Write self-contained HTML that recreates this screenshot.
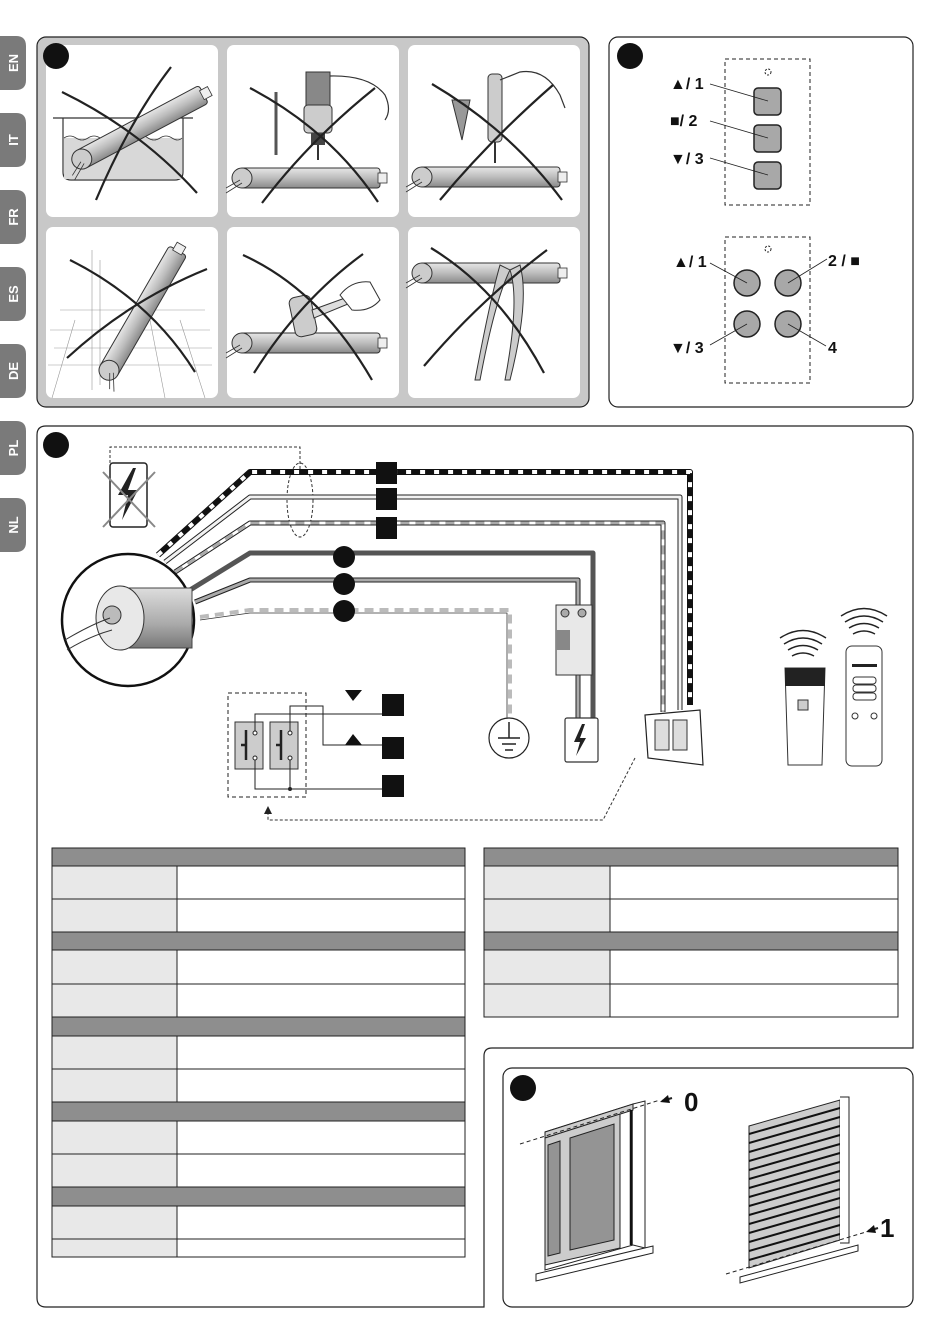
<!DOCTYPE html>
<html><head><meta charset="utf-8"><style>
html,body{margin:0;padding:0;background:#fff}
svg{display:block}
text{font-family:"Liberation Sans",sans-serif;font-weight:bold}
</style></head><body>
<svg width="950" height="1344" viewBox="0 0 950 1344" xmlns="http://www.w3.org/2000/svg">
<defs>
<linearGradient id="tb" x1="0" y1="0" x2="0" y2="1"><stop offset="0" stop-color="#e6e6e6"/><stop offset=".5" stop-color="#bdbdbd"/><stop offset="1" stop-color="#8a8a8a"/></linearGradient>
<linearGradient id="mg" x1="0" y1="0" x2="0" y2="1"><stop offset="0" stop-color="#ddd"/><stop offset=".6" stop-color="#aaa"/><stop offset="1" stop-color="#777"/></linearGradient>
<g id="tube"><rect x="0" y="-10" width="140" height="20" rx="3" fill="url(#tb)" stroke="#333" stroke-width="1"/><rect x="138" y="-5" width="9" height="10" fill="#eee" stroke="#333" stroke-width=".8"/><circle cx="2" cy="0" r="10" fill="#ccc" stroke="#333"/><path d="M-14 10 L0 2 M-14 15 L2 5" stroke="#333" stroke-width=".8" fill="none"/></g>
</defs>

<g fill="#7a7a7a">
<path d="M0 36 H16 Q26 36 26 46 V80 Q26 90 16 90 H0Z"/>
<path d="M0 113 H16 Q26 113 26 123 V157 Q26 167 16 167 H0Z"/>
<path d="M0 190 H16 Q26 190 26 200 V234 Q26 244 16 244 H0Z"/>
<path d="M0 267 H16 Q26 267 26 277 V311 Q26 321 16 321 H0Z"/>
<path d="M0 344 H16 Q26 344 26 354 V388 Q26 398 16 398 H0Z"/>
<path d="M0 421 H16 Q26 421 26 431 V465 Q26 475 16 475 H0Z"/>
<path d="M0 498 H16 Q26 498 26 508 V542 Q26 552 16 552 H0Z"/>
</g>
<g fill="#fff" font-size="13" text-anchor="middle">
<text transform="translate(18,63) rotate(-90)">EN</text>
<text transform="translate(18,140) rotate(-90)">IT</text>
<text transform="translate(18,217) rotate(-90)">FR</text>
<text transform="translate(18,294) rotate(-90)">ES</text>
<text transform="translate(18,371) rotate(-90)">DE</text>
<text transform="translate(18,448) rotate(-90)">PL</text>
<text transform="translate(18,525) rotate(-90)">NL</text>
</g>

<rect x="37" y="37" width="552" height="370" rx="9" fill="#c8c8c8" stroke="#222" stroke-width="1.2"/>
<g fill="#fff">
<rect x="46" y="45" width="172" height="172" rx="7"/><rect x="227" y="45" width="172" height="172" rx="7"/><rect x="408" y="45" width="172" height="172" rx="7"/>
<rect x="46" y="227" width="172" height="171" rx="7"/><rect x="227" y="227" width="172" height="171" rx="7"/><rect x="408" y="227" width="172" height="171" rx="7"/>
</g>
<circle cx="56" cy="56" r="13" fill="#111"/>
<path d="M53 118 H193 M63 118 V172 Q63 180 71 180 H175 Q183 180 183 172 V118" fill="none" stroke="#333" stroke-width="1.2"/>
<rect x="64" y="138" width="118" height="41" fill="#d8d8d8"/>
<path d="M64 138 q6 -4 12 0 t12 0 t12 0 t12 0 t12 0 t12 0 t12 0 t12 0 t12 0 t10 0" stroke="#333" fill="none" stroke-width=".8"/>
<g transform="translate(80,160) rotate(-28)"><use href="#tube"/></g>
<path d="M62 92 Q140 130 197 193 M96 200 Q130 120 171 67" stroke="#222" stroke-width="2.2" fill="none"/>
<g transform="translate(240,178)"><use href="#tube"/></g>
<rect x="306" y="72" width="24" height="40" fill="#888" stroke="#333"/><rect x="304" y="105" width="28" height="28" rx="4" fill="#ccc" stroke="#333"/><rect x="311" y="133" width="14" height="12" fill="#444"/><path d="M318 145 V160" stroke="#333" stroke-width="2"/>
<path d="M330 76 Q370 75 385 95 Q392 110 385 120" stroke="#333" fill="none" stroke-width="1.2"/>
<path d="M276 92 V155" stroke="#555" stroke-width="3"/>
<path d="M250 88 Q330 130 378 202 M262 203 Q310 140 375 88" stroke="#222" stroke-width="2.2" fill="none"/>
<g transform="translate(420,177)"><use href="#tube"/></g>
<rect x="488" y="74" width="14" height="68" rx="4" fill="#ccc" stroke="#333"/><path d="M495 142 V163" stroke="#333" stroke-width="2"/>
<path d="M500 80 L520 72 Q545 68 560 95 L565 108" stroke="#333" fill="none" stroke-width="1.2"/>
<path d="M452 100 L462 140 L470 100Z" fill="#999" stroke="#333"/>
<path d="M432 84 Q510 130 562 200 M440 200 Q490 140 553 85" stroke="#222" stroke-width="2.2" fill="none"/>
<g stroke="#999" stroke-width=".6" fill="none"><path d="M50 330 H210 M54 348 H212 M48 365 H212 M60 310 H205 M92 250 V390 M100 260 V385 M75 320 L52 398 M150 320 L165 398 M180 320 L205 398"/></g>
<g transform="translate(108,372) rotate(-60)"><use href="#tube"/></g>
<path d="M70 260 Q150 300 195 372 M67 358 Q130 300 207 269" stroke="#222" stroke-width="2.2" fill="none"/>
<g transform="translate(240,343)"><use href="#tube"/></g>
<rect x="292" y="296" width="22" height="40" rx="6" fill="#ccc" stroke="#333" transform="rotate(-12 303 316)"/>
<path d="M312 310 L345 298 L348 304 L314 318Z" fill="#ddd" stroke="#333"/>
<path d="M340 295 Q352 280 370 282 L380 300 Q370 312 352 310Z" fill="#fff" stroke="#333"/>
<path d="M243 255 Q320 290 372 380 M254 373 Q300 300 363 254" stroke="#222" stroke-width="2.2" fill="none"/>
<g transform="translate(420,273)"><use href="#tube"/></g>
<path d="M500 265 Q490 300 475 380 L480 380 Q495 300 510 270Z M510 270 Q520 300 505 380 L510 380 Q530 300 520 265Z" fill="#ccc" stroke="#333"/>
<path d="M431 248 Q500 290 544 373 M424 366 Q480 300 547 250" stroke="#222" stroke-width="2.2" fill="none"/>

<rect x="609" y="37" width="304" height="370" rx="9" fill="#fff" stroke="#222" stroke-width="1.2"/>
<circle cx="630" cy="56" r="13" fill="#111"/>
<rect x="725" y="59" width="85" height="146" fill="none" stroke="#222" stroke-dasharray="4,3"/>
<rect x="725" y="237" width="85" height="146" fill="none" stroke="#222" stroke-dasharray="4,3"/>
<circle cx="768" cy="72" r="3" fill="none" stroke="#222" stroke-dasharray="2,1.5"/>
<circle cx="768" cy="249" r="3" fill="none" stroke="#222" stroke-dasharray="2,1.5"/>
<g fill="#a8a8a8" stroke="#222" stroke-width="1.5">
<rect x="754" y="88" width="27" height="27" rx="4"/><rect x="754" y="125" width="27" height="27" rx="4"/><rect x="754" y="162" width="27" height="27" rx="4"/>
<circle cx="747" cy="283" r="13"/><circle cx="788" cy="283" r="13"/><circle cx="747" cy="324" r="13"/><circle cx="788" cy="324" r="13"/>
</g>
<g stroke="#222" stroke-width=".8" fill="none">
<path d="M710 84 L768 101 M710 121 L768 138 M710 158 L768 175 M710 263 L747 283 M827 259 L788 283 M710 345 L747 324 M826 346 L788 324"/>
</g>
<g font-size="16" fill="#111">
<text x="670" y="89">▲/ 1</text><text x="670" y="126">■/ 2</text><text x="670" y="164">▼/ 3</text>
<text x="673" y="267">▲/ 1</text><text x="828" y="266">2 / ■</text><text x="670" y="353">▼/ 3</text><text x="828" y="353">4</text>
</g>

<path d="M46 426 H904 Q913 426 913 435 V1048 H492 Q484 1048 484 1056 V1307 H46 Q37 1307 37 1298 V435 Q37 426 46 426Z" fill="#fff" stroke="#222" stroke-width="1.2"/>
<circle cx="56" cy="445" r="13" fill="#111"/>
<rect x="110" y="463" width="37" height="64" rx="3" fill="#fff" stroke="#222" stroke-width="1.5"/>
<path d="M133 468 L118 495 L128 495 L122 520 L138 490 L128 490 L136 468Z" fill="#222"/>
<path d="M103 472 L155 527 M103 527 L155 472" stroke="#888" stroke-width="2"/>
<path d="M110 463 V447 H300 V470" fill="none" stroke="#333" stroke-dasharray="3,2"/>
<ellipse cx="300" cy="500" rx="13" ry="37" fill="none" stroke="#333" stroke-dasharray="3,2"/>
<g fill="none" stroke-linejoin="round">
<path d="M158 555 L250 472 H690 V705" stroke="#111" stroke-width="6"/>
<path d="M158 555 L250 472 H690 V705" stroke="#fff" stroke-width="4" stroke-dasharray="5,9"/>
<path d="M165 562 L250 497 H680 V710" stroke="#222" stroke-width="5"/>
<path d="M165 562 L250 497 H680 V710" stroke="#f2f2f2" stroke-width="3"/>
<path d="M175 572 L250 523 H663 V712" stroke="#222" stroke-width="5"/>
<path d="M175 572 L250 523 H663 V712" stroke="#fff" stroke-width="3"/>
<path d="M175 572 L250 523 H663 V712" stroke="#aaa" stroke-width="3" stroke-dasharray="9,6"/>
<path d="M190 590 L250 553 H593 V730" stroke="#555" stroke-width="5"/>
<path d="M195 602 L250 580 H578 V730" stroke="#222" stroke-width="5"/>
<path d="M195 602 L250 580 H578 V730" stroke="#aaa" stroke-width="3"/>
<path d="M200 617 L250 610 H510 V720" stroke="#fff" stroke-width="5"/>
<path d="M200 617 L250 610 H510 V720" stroke="#bbb" stroke-width="4" stroke-dasharray="9,6"/>
<path d="M200 620 L250 613 H507 V720" stroke="#333" stroke-width=".8"/>
</g>
<g fill="#111"><rect x="376" y="462" width="21" height="22"/><rect x="376" y="488" width="21" height="22"/><rect x="376" y="517" width="21" height="22"/>
<circle cx="344" cy="557" r="11"/><circle cx="344" cy="584" r="11"/><circle cx="344" cy="611" r="11"/></g>
<circle cx="128" cy="620" r="66" fill="#fff" stroke="#111" stroke-width="2.5"/>
<rect x="120" y="588" width="72" height="60" fill="url(#mg)" stroke="#444"/>
<ellipse cx="120" cy="618" rx="24" ry="32" fill="#e8e8e8" stroke="#333"/>
<circle cx="112" cy="615" r="9" fill="#bbb" stroke="#333"/>
<path d="M65 640 Q90 625 110 618 M67 650 Q90 636 112 630" stroke="#333" fill="none"/>
<rect x="556" y="605" width="36" height="70" fill="#e8e8e8" stroke="#333"/>
<rect x="556" y="630" width="14" height="20" fill="#888"/>
<circle cx="565" cy="613" r="4" fill="#aaa" stroke="#333"/><circle cx="582" cy="613" r="4" fill="#aaa" stroke="#333"/>
<rect x="565" y="718" width="33" height="44" rx="2" fill="#fff" stroke="#333" stroke-width="1.2"/>
<path d="M582 724 L574 742 L580 742 L576 756 L586 738 L580 738 L585 724Z" fill="#222"/>
<circle cx="509" cy="738" r="20" fill="#fff" stroke="#222" stroke-width="1.2"/>
<path d="M509 722 V738 M498 738 H520 M502 744 H516 M505 750 H513" stroke="#222" stroke-width="1.5"/>
<path d="M645 715 L700 710 L703 765 L648 758Z" fill="#fff" stroke="#222" stroke-width="1.2"/>
<rect x="655" y="720" width="14" height="30" fill="#ddd" stroke="#333"/><rect x="673" y="720" width="14" height="30" fill="#ddd" stroke="#333"/>
<path d="M635 758 L603 820 H268 V810" fill="none" stroke="#333" stroke-dasharray="3,2"/>
<path d="M264 814 L268 806 L272 814Z" fill="#222"/>
<rect x="228" y="693" width="78" height="104" fill="none" stroke="#222" stroke-dasharray="4,3"/>
<rect x="235" y="722" width="28" height="47" fill="#ccc" stroke="#333"/><rect x="270" y="722" width="28" height="47" fill="#ccc" stroke="#333"/>
<g stroke="#222" stroke-width="1" fill="none">
<path d="M255 733 V714 H382 M290 733 V722 V706 H323 V745 H382 M255 758 V789 H382 M290 758 V789"/>
<path d="M246 730 V760 M241 745 H246 M281 730 V760 M276 745 H281" stroke-width="2.5"/>
</g>
<g fill="#fff" stroke="#222"><circle cx="255" cy="733" r="2"/><circle cx="255" cy="758" r="2"/><circle cx="290" cy="733" r="2"/><circle cx="290" cy="758" r="2"/></g>
<circle cx="290" cy="789" r="2" fill="#222"/>
<path d="M345 690 H362 L353 701Z M345 745 H362 L353 734Z" fill="#111"/>
<g fill="#111"><rect x="382" y="694" width="22" height="22"/><rect x="382" y="737" width="22" height="22"/><rect x="382" y="775" width="22" height="22"/></g>
<g fill="none" stroke="#222" stroke-width="1.4">
<path d="M792 656 Q803 650 814 656 M788 650 Q803 641 818 650 M784 644 Q803 632 822 644 M780 638 Q803 623 826 638"/>
<path d="M853 634 Q864 628 875 634 M849 628 Q864 619 879 628 M845 622 Q864 610 883 622 M841 616 Q864 601 887 616"/>
</g>
<path d="M785 668 H825 L822 765 H788Z" fill="#fff" stroke="#333"/>
<rect x="785" y="668" width="40" height="18" fill="#222"/>
<rect x="798" y="700" width="10" height="10" fill="#ccc" stroke="#333"/>
<rect x="846" y="646" width="36" height="120" rx="6" fill="#fff" stroke="#333"/>
<rect x="852" y="664" width="25" height="3" fill="#222"/>
<rect x="853" y="677" width="23" height="7" rx="3" fill="#fff" stroke="#333"/><rect x="853" y="685" width="23" height="7" rx="3" fill="#fff" stroke="#333"/><rect x="853" y="693" width="23" height="7" rx="3" fill="#fff" stroke="#333"/>
<circle cx="855" cy="716" r="3" fill="none" stroke="#333"/><circle cx="874" cy="716" r="3" fill="none" stroke="#333"/>

<g stroke="#222" stroke-width="1">
<g fill="#8e8e8e">
<rect x="52" y="848" width="413" height="18"/><rect x="52" y="932" width="413" height="18"/><rect x="52" y="1017" width="413" height="19"/><rect x="52" y="1102" width="413" height="19"/><rect x="52" y="1187" width="413" height="19"/>
<rect x="484" y="848" width="414" height="18"/><rect x="484" y="932" width="414" height="18"/>
</g>
<g fill="#e8e8e8">
<rect x="52" y="866" width="125" height="33"/><rect x="52" y="899" width="125" height="33"/><rect x="52" y="950" width="125" height="34"/><rect x="52" y="984" width="125" height="33"/><rect x="52" y="1036" width="125" height="33"/><rect x="52" y="1069" width="125" height="33"/><rect x="52" y="1121" width="125" height="33"/><rect x="52" y="1154" width="125" height="33"/><rect x="52" y="1206" width="125" height="33"/><rect x="52" y="1239" width="125" height="18"/>
<rect x="484" y="866" width="126" height="33"/><rect x="484" y="899" width="126" height="33"/><rect x="484" y="950" width="126" height="34"/><rect x="484" y="984" width="126" height="33"/>
</g>
<g fill="#fff">
<rect x="177" y="866" width="288" height="33"/><rect x="177" y="899" width="288" height="33"/><rect x="177" y="950" width="288" height="34"/><rect x="177" y="984" width="288" height="33"/><rect x="177" y="1036" width="288" height="33"/><rect x="177" y="1069" width="288" height="33"/><rect x="177" y="1121" width="288" height="33"/><rect x="177" y="1154" width="288" height="33"/><rect x="177" y="1206" width="288" height="33"/><rect x="177" y="1239" width="288" height="18"/>
<rect x="610" y="866" width="288" height="33"/><rect x="610" y="899" width="288" height="33"/><rect x="610" y="950" width="288" height="34"/><rect x="610" y="984" width="288" height="33"/>
</g>
</g>

<rect x="503" y="1068" width="410" height="239" rx="9" fill="#fff" stroke="#222" stroke-width="1.2"/>
<circle cx="523" cy="1088" r="13" fill="#111"/>
<path d="M545 1132 L633 1104 V1245 L545 1270Z" fill="#fff" stroke="#222" stroke-width="1"/>
<path d="M633 1104 L645 1101 V1248 L633 1245" fill="#fff" stroke="#222"/>
<path d="M545 1132 L633 1104 V1110 L545 1138Z" fill="#ccc" stroke="#222"/>
<path d="M545 1138 L620 1114 V1248 L545 1265Z" fill="#ccc" stroke="#222"/>
<path d="M548 1145 L560 1141 V1253 L548 1256Z M570 1138 L614 1124 V1240 L570 1250Z" fill="#949494" stroke="#222"/>
<path d="M631 1110 V1245" stroke="#111" stroke-width="2.5"/>
<path d="M536 1274 L653 1246 V1253 L536 1281Z" fill="#fff" stroke="#222"/>
<path d="M520 1144 L660 1100" stroke="#222" stroke-dasharray="4,3"/>
<path d="M662 1101 L672 1098" stroke="#222" stroke-width="2"/><path d="M660 1102 L668 1095 L670 1103Z" fill="#111"/>
<text x="684" y="1111" font-size="26" fill="#111">0</text>
<path d="M749 1126 L840 1100 V1240 L749 1268Z" fill="#ccc" stroke="#222"/>
<g stroke="#111" stroke-width="2">
<path d="M749 1134 L840 1108 M749 1143 L840 1117 M749 1152 L840 1126 M749 1161 L840 1135 M749 1170 L840 1144 M749 1179 L840 1153 M749 1188 L840 1162 M749 1197 L840 1171 M749 1206 L840 1180 M749 1215 L840 1189 M749 1224 L840 1198 M749 1233 L840 1207 M749 1242 L840 1216 M749 1251 L840 1225 M749 1260 L840 1234"/>
</g>
<path d="M840 1097 L849 1097 V1243 L840 1243" fill="#fff" stroke="#222"/>
<path d="M740 1277 L858 1245 V1251 L740 1283Z" fill="#fff" stroke="#222"/>
<path d="M726 1274 L866 1232" stroke="#222" stroke-dasharray="4,3"/>
<path d="M868 1231 L878 1228" stroke="#222" stroke-width="2"/><path d="M866 1232 L874 1225 L876 1233Z" fill="#111"/>
<text x="880" y="1237" font-size="26" fill="#111">1</text>
</svg>
</body></html>
